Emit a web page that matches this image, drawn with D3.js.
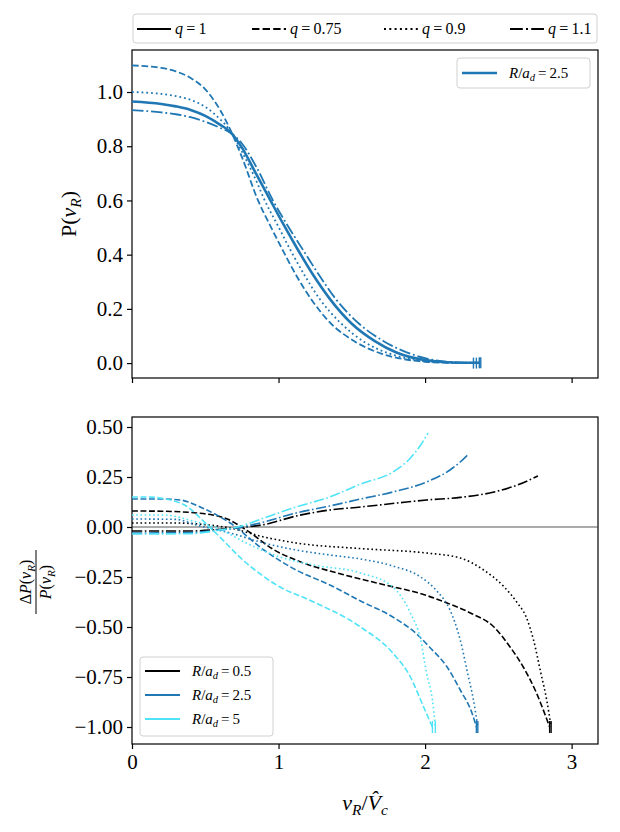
<html>
  <head>
    <meta charset="utf-8">
    <title>P(v_R) profiles</title>
    <style>
      body { margin: 0; background: #fff; }
      svg { font-family: "Liberation Serif", "Times New Roman", serif; }
      .tick text { font-size: 21px; font-family: "Liberation Serif", serif; }
    </style>
  </head>
  <body>
    <svg id="chart" width="620" height="832"></svg>
    <script src="https://cdn.jsdelivr.net/npm/d3@7"></script>
    <script>
// line style for each q value
var qValues = ["1", "0.75", "0.9", "1.1"];
var qStyles = ["solid", "dashed", "dotted", "dashdot"];

// R/a_d values and their colours
var radii = ["0.5", "2.5", "5"];
var radiusColours = ["#000000", "#1f77b4", "#4fe3f7"];

// top panel: P(v_R) for R/a_d = 2.5, pairs of [v_R/Vc, P]
var topQ1 = [[0,0.965],[0.2,0.956],[0.3,0.947],[0.4,0.934],[0.5,0.912],[0.6,0.88],[0.67,0.853],[0.75,0.795],[0.85,0.695],[0.93,0.615],[1.03,0.515],[1.13,0.42],[1.24,0.322],[1.35,0.237],[1.5,0.145],[1.66,0.08],[1.8,0.04],[1.9,0.022],[2.0,0.011],[2.1,0.005],[2.2,0.002],[2.37,0.001]];
var topQ075 = [[0,1.098],[0.2,1.089],[0.3,1.076],[0.4,1.052],[0.5,1.01],[0.6,0.935],[0.67,0.862],[0.75,0.76],[0.86,0.6],[0.95,0.5],[1.03,0.415],[1.13,0.315],[1.23,0.23],[1.35,0.15],[1.52,0.08],[1.7,0.035],[1.85,0.015],[2.0,0.005],[2.1,0.002],[2.2,0.001],[2.33,0.0]];
var topQ09 = [[0,1.0],[0.2,0.993],[0.3,0.985],[0.4,0.971],[0.5,0.945],[0.6,0.9],[0.67,0.858],[0.75,0.78],[0.85,0.67],[0.9,0.607],[1.0,0.502],[1.08,0.418],[1.18,0.322],[1.28,0.237],[1.42,0.15],[1.58,0.08],[1.75,0.036],[1.9,0.015],[2.0,0.007],[2.1,0.003],[2.2,0.001],[2.35,0.0]];
var topQ11 = [[0,0.933],[0.2,0.925],[0.3,0.918],[0.4,0.907],[0.5,0.89],[0.6,0.868],[0.67,0.85],[0.75,0.81],[0.85,0.722],[0.96,0.602],[1.07,0.5],[1.17,0.415],[1.28,0.322],[1.39,0.237],[1.55,0.145],[1.72,0.08],[1.85,0.045],[2.0,0.018],[2.1,0.008],[2.2,0.003],[2.38,0.001]];

// bottom panel: relative difference dP/P, one array per (R/a_d, q)
var bot05q075 = [[0,0.08],[0.2,0.079],[0.44,0.07],[0.55,0.06],[0.65,0.04],[0.78,-0.015],[0.96,-0.11],[1.17,-0.18],[1.4,-0.23],[1.7,-0.285],[2.0,-0.34],[2.15,-0.38],[2.31,-0.43],[2.47,-0.5],[2.58,-0.6],[2.67,-0.7],[2.76,-0.83],[2.83,-0.96],[2.85,-1.0]];
var bot05q09 = [[0,0.02],[0.3,0.02],[0.5,0.012],[0.67,-0.005],[0.9,-0.05],[1.12,-0.08],[1.56,-0.108],[2.01,-0.13],[2.24,-0.155],[2.4,-0.215],[2.54,-0.3],[2.63,-0.38],[2.69,-0.45],[2.74,-0.565],[2.79,-0.73],[2.83,-0.865],[2.86,-1.0]];
var bot05q11 = [[0,-0.02],[0.4,-0.02],[0.6,-0.012],[0.78,0.0],[0.9,0.012],[1.12,0.055],[1.35,0.085],[1.56,0.1],[1.81,0.12],[2.01,0.135],[2.24,0.148],[2.47,0.175],[2.63,0.21],[2.77,0.255]];
var bot25q075 = [[0,0.14],[0.2,0.14],[0.33,0.135],[0.48,0.095],[0.67,0.02],[0.9,-0.115],[1.12,-0.215],[1.35,-0.29],[1.56,-0.37],[1.78,-0.45],[1.95,-0.54],[2.03,-0.6],[2.15,-0.7],[2.24,-0.815],[2.32,-0.93],[2.35,-1.0]];
var bot25q09 = [[0,0.04],[0.3,0.038],[0.44,0.01],[0.67,-0.03],[0.9,-0.08],[1.12,-0.115],[1.35,-0.14],[1.56,-0.16],[1.78,-0.195],[1.97,-0.25],[2.08,-0.32],[2.17,-0.415],[2.24,-0.565],[2.29,-0.73],[2.33,-0.865],[2.36,-1.0]];
var bot25q11 = [[0,-0.03],[0.4,-0.028],[0.6,-0.015],[0.75,0.0],[0.9,0.025],[1.12,0.07],[1.35,0.105],[1.56,0.14],[1.78,0.175],[2.01,0.225],[2.17,0.285],[2.24,0.325],[2.29,0.36]];
var bot5q075 = [[0,0.15],[0.1,0.15],[0.33,0.12],[0.55,-0.015],[0.78,-0.18],[1.01,-0.3],[1.21,-0.365],[1.56,-0.5],[1.78,-0.63],[1.9,-0.75],[1.99,-0.9],[2.05,-1.0]];
var bot5q09 = [[0,0.06],[0.21,0.06],[0.44,0.025],[0.58,-0.005],[0.78,-0.08],[1.01,-0.15],[1.24,-0.19],[1.56,-0.23],[1.78,-0.3],[1.9,-0.43],[1.97,-0.565],[2.01,-0.73],[2.05,-0.865],[2.07,-1.0]];
var bot5q11 = [[0,-0.035],[0.4,-0.033],[0.6,-0.015],[0.72,0.0],[0.9,0.045],[1.12,0.1],[1.35,0.15],[1.56,0.215],[1.78,0.275],[1.9,0.345],[1.97,0.41],[2.02,0.47]];

var xTicks = [0, 1, 2, 3];
var topTicks = [0, 0.2, 0.4, 0.6, 0.8, 1.0];
var botTicks = [-1.0, -0.75, -0.5, -0.25, 0, 0.25, 0.5];

var svg = d3.select("#chart");

var x = d3.scaleLinear().domain([0, 3.18]).range([132, 598]);
var yTop = d3.scaleLinear().domain([-0.055, 1.155]).range([378, 50]);
var yBot = d3.scaleLinear().domain([-1.085, 0.55]).range([744, 417]);

// dash arrays scaled by line width, like matplotlib does
function dashes(style, lw) {
  if (style == "dashed") return [3.7 * lw, 1.6 * lw].join(",");
  if (style == "dotted") return [1 * lw, 1.65 * lw].join(",");
  if (style == "dashdot") return [6.4 * lw, 1.6 * lw, 1 * lw, 1.6 * lw].join(",");
  return null;
}

function fmt(v, digits) {
  var s = v.toFixed(digits);
  return s.replace("-", "\u2212");
}

function drawFrame(y, ticks, digits, top, bottom, showX) {
  var g = svg.append("g");
  var ya = d3.axisLeft(y).tickValues(ticks).tickSize(5).tickPadding(4)
      .tickFormat(d => fmt(d, digits));
  g.append("g").attr("transform", "translate(132,0)").call(ya)
    .call(a => a.select(".domain").remove());
  var xa = d3.axisBottom(x).tickValues(xTicks).tickSize(5).tickPadding(5)
      .tickFormat(d => showX ? d : "");
  g.append("g").attr("transform", "translate(0," + bottom + ")").call(xa)
    .call(a => a.select(".domain").remove());
  g.selectAll("g").attr("font-family", null).attr("font-size", null);
  g.selectAll(".tick line").attr("stroke", "#000").attr("stroke-width", 1.2);
  g.selectAll(".tick text").attr("fill", "#000");
  g.append("rect")
    .attr("x", 132).attr("y", top)
    .attr("width", 598 - 132).attr("height", bottom - top)
    .attr("fill", "none").attr("stroke", "#000").attr("stroke-width", 1.2);
}

function drawSeries(y, data, colour, style, lw, marker) {
  var line = d3.line().x(d => x(d[0])).y(d => y(d[1])).curve(d3.curveMonotoneX);
  svg.append("path")
    .attr("d", line(data))
    .attr("fill", "none")
    .attr("stroke", colour)
    .attr("stroke-width", lw)
    .attr("stroke-dasharray", dashes(style, lw));
  if (marker) {
    var last = data[data.length - 1];
    svg.append("line")
      .attr("x1", x(last[0])).attr("x2", x(last[0]))
      .attr("y1", y(last[1]) - marker / 2).attr("y2", y(last[1]) + marker / 2)
      .attr("stroke", colour).attr("stroke-width", 1.4);
  }
}

// ---- top panel
drawFrame(yTop, topTicks, 1, 50, 378, false);
var topSeries = [topQ1, topQ075, topQ09, topQ11];
topSeries.forEach((s, i) => {
  drawSeries(yTop, s, radiusColours[1], qStyles[i], i == 0 ? 2.6 : 1.8, 11);
});

// ---- bottom panel
drawFrame(yBot, botTicks, 2, 417, 744, true);
svg.append("line")
  .attr("x1", 132).attr("x2", 598)
  .attr("y1", yBot(0)).attr("y2", yBot(0))
  .attr("stroke", "#444").attr("stroke-width", 0.9);

var botSeries = [
  [bot05q075, bot05q09, bot05q11],
  [bot25q075, bot25q09, bot25q11],
  [bot5q075, bot5q09, bot5q11]
];
botSeries.forEach((group, r) => {
  group.forEach((s, j) => {
    var style = qStyles[j + 1];
    drawSeries(yBot, s, radiusColours[r], style, 1.6, style == "dashdot" ? 0 : 12);
  });
});

// ---- math-ish text helper
function mathText(sel, parts, size) {
  var t = sel.append("text").attr("font-size", size);
  parts.forEach(p => {
    var ts = t.append("tspan").text(p.t);
    if (p.i) ts.attr("font-style", "italic");
    if (p.sub) ts.attr("font-size", size * 0.7).attr("dy", size * 0.22);
    if (p.up) ts.attr("dy", -size * 0.22);
  });
  return t;
}

// ---- q legend above the plots
var qLeg = svg.append("g");
qLeg.append("rect")
  .attr("x", 133).attr("y", 14).attr("width", 464).attr("height", 29)
  .attr("rx", 3).attr("fill", "#fff").attr("stroke", "#d0d0d0").attr("stroke-width", 1);
var qLegX = [137, 252, 384, 510];
qValues.forEach((q, i) => {
  qLeg.append("line")
    .attr("x1", qLegX[i]).attr("x2", qLegX[i] + 34)
    .attr("y1", 29).attr("y2", 29)
    .attr("stroke", "#000").attr("stroke-width", 2)
    .attr("stroke-dasharray", dashes(qStyles[i], 2));
  var t = mathText(qLeg, [{t: "q", i: true}, {t: "\u2009=\u2009" + q}], 16);
  t.attr("x", qLegX[i] + 38).attr("y", 34);
});

// ---- R/a_d = 2.5 legend in top panel
var rLeg = svg.append("g");
rLeg.append("rect")
  .attr("x", 457).attr("y", 58).attr("width", 133).attr("height", 30)
  .attr("rx", 3).attr("fill", "#fff").attr("stroke", "#d0d0d0");
rLeg.append("line")
  .attr("x1", 462).attr("x2", 497).attr("y1", 73).attr("y2", 73)
  .attr("stroke", radiusColours[1]).attr("stroke-width", 2.4);
mathText(rLeg, [{t: "R", i: true}, {t: "/"}, {t: "a", i: true}, {t: "d", i: true, sub: true},
                {t: "\u2009=\u20092.5", up: true}], 15)
  .attr("x", 509).attr("y", 78);

// ---- bottom legend
var bLeg = svg.append("g");
bLeg.append("rect")
  .attr("x", 140).attr("y", 657).attr("width", 133).attr("height", 79)
  .attr("rx", 3).attr("fill", "#fff").attr("stroke", "#d0d0d0");
radii.forEach((r, i) => {
  var yy = 671 + i * 24;
  bLeg.append("line")
    .attr("x1", 145).attr("x2", 180).attr("y1", yy).attr("y2", yy)
    .attr("stroke", radiusColours[i]).attr("stroke-width", 2.2);
  mathText(bLeg, [{t: "R", i: true}, {t: "/"}, {t: "a", i: true}, {t: "d", i: true, sub: true},
                  {t: "\u2009=\u2009" + r, up: true}], 15)
    .attr("x", 192).attr("y", yy + 5);
});

// ---- axis labels
var yl = svg.append("g").attr("transform", "translate(76,214) rotate(-90)");
mathText(yl, [{t: "P("}, {t: "v", i: true}, {t: "R", i: true, sub: true}, {t: ")", up: true}], 22)
  .attr("text-anchor", "middle").attr("x", 0).attr("y", 0);

var yl2 = svg.append("g").attr("transform", "translate(36,582) rotate(-90)");
mathText(yl2, [{t: "\u0394"}, {t: "P", i: true}, {t: "("}, {t: "v", i: true}, {t: "R", i: true, sub: true}, {t: ")", up: true}], 16)
  .attr("text-anchor", "middle").attr("x", 0).attr("y", -5);
yl2.append("line").attr("x1", -32).attr("x2", 32).attr("y1", 0).attr("y2", 0)
  .attr("stroke", "#000").attr("stroke-width", 1);
mathText(yl2, [{t: "P", i: true}, {t: "("}, {t: "v", i: true}, {t: "R", i: true, sub: true}, {t: ")", up: true}], 16)
  .attr("text-anchor", "middle").attr("x", 0).attr("y", 15);

var xl = mathText(svg, [{t: "v", i: true}, {t: "R", i: true, sub: true}, {t: "/", up: true}, {t: "V\u0302", i: true}, {t: "c", i: true, sub: true}], 22);
xl.attr("text-anchor", "middle").attr("x", 365).attr("y", 810);
    </script>
  </body>
</html>
